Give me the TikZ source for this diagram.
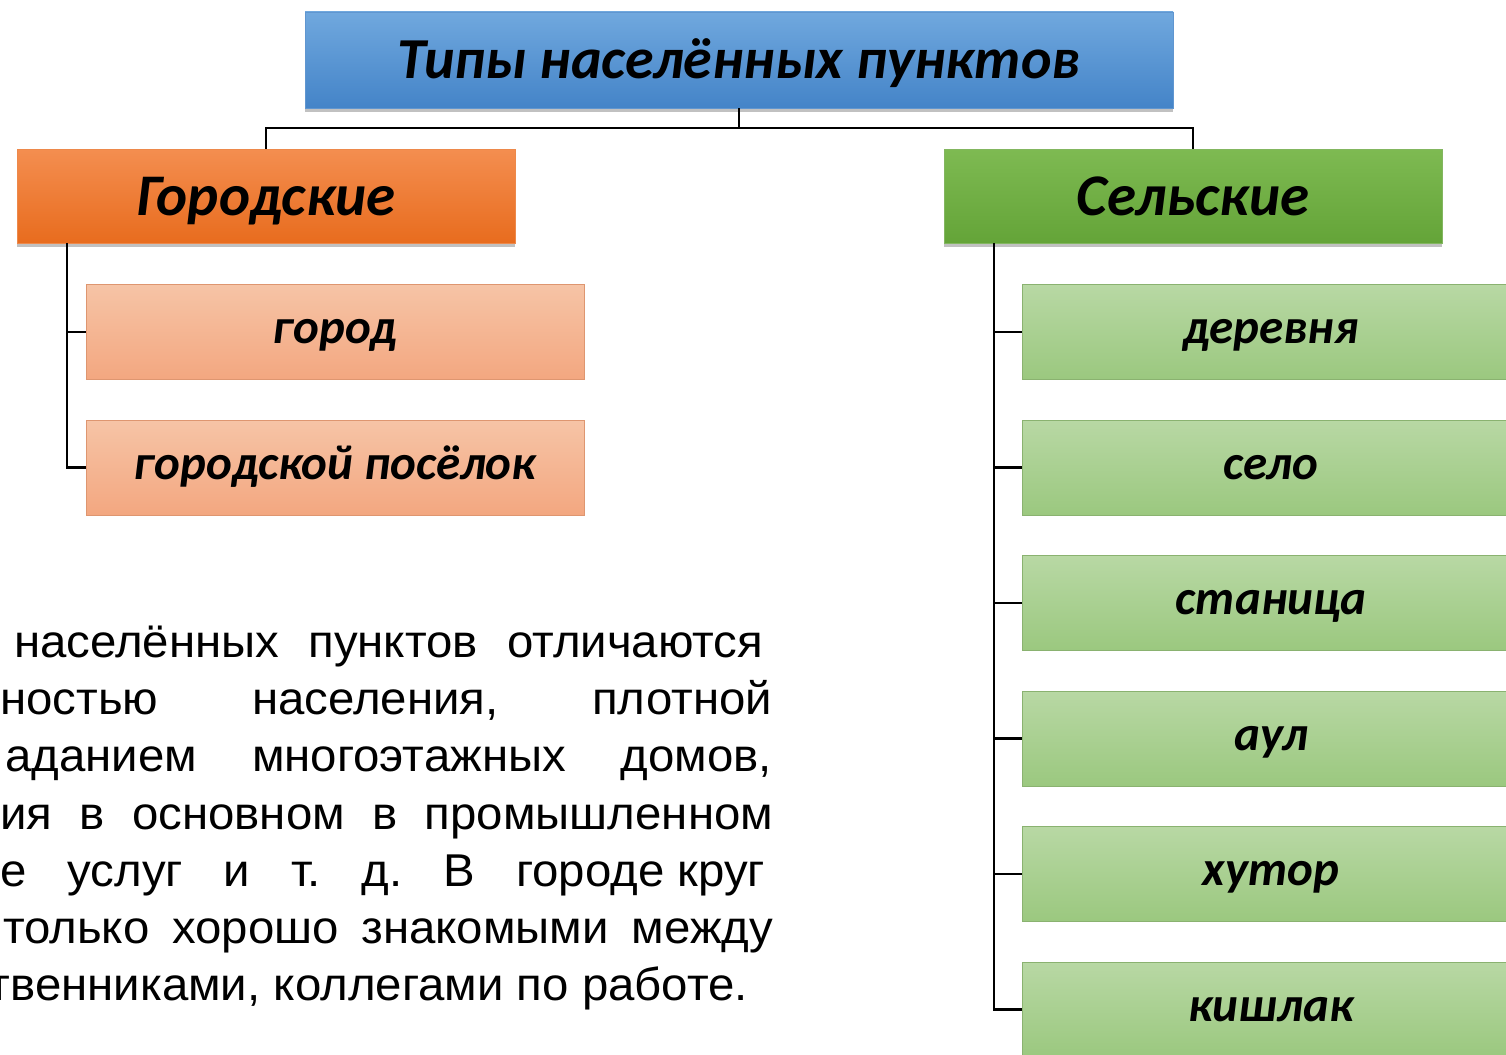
\documentclass[tikz,border=0pt]{standalone}
\usepackage{fontspec}
\usepackage{tikz}
\usetikzlibrary{positioning, shadows}

\newfontfamily\calibri{Carlito}
\newfontfamily\arialfont[FakeStretch=1.03]{Liberation Sans}

\definecolor{titletop}{RGB}{112,168,222}
\definecolor{titlebot}{RGB}{68,132,200}
\definecolor{urbantop}{RGB}{244,142,80}
\definecolor{urbanbot}{RGB}{232,108,30}
\definecolor{ruraltop}{RGB}{126,186,82}
\definecolor{ruralbot}{RGB}{100,164,56}
\definecolor{salmontop}{RGB}{246,196,166}
\definecolor{salmonbot}{RGB}{243,167,128}
\definecolor{salmonline}{RGB}{222,150,112}
\definecolor{mintop}{RGB}{184,216,164}
\definecolor{minbot}{RGB}{155,200,127}
\definecolor{minline}{RGB}{138,178,112}

\begin{document}
\frenchspacing
\begin{tikzpicture}[x=1pt, y=-1pt, node distance=135.5pt and 78pt, on grid,
	mainbox/.style={rectangle, minimum height=96pt, inner sep=0pt,
		text height=44pt, text depth=6pt,
		font=\calibri\bfseries\itshape\fontsize{59}{64}\selectfont,
		drop shadow={shadow xshift=0pt, shadow yshift=-4pt, opacity=0.35, fill=black!70}},
	typebox/.style={mainbox, minimum width=868pt, top color=titletop, bottom color=titlebot,
		draw=titlebot!85!white, font=\calibri\bfseries\itshape\fontsize{58}{62}\selectfont},
	urbanbox/.style={mainbox, minimum width=498pt, minimum height=94pt, top color=urbantop, bottom color=urbanbot, draw=urbanbot!80!white},
	ruralbox/.style={mainbox, minimum width=498pt, minimum height=94pt, top color=ruraltop, bottom color=ruralbot, draw=ruralbot!80!white},
	itembox/.style={rectangle, minimum width=498pt, minimum height=95pt, inner sep=0pt, line width=1pt,
		text height=32pt, text depth=8.5pt,
		font=\calibri\bfseries\itshape\fontsize{49}{52}\selectfont},
	urbanitem/.style={itembox, top color=salmontop, bottom color=salmonbot, draw=salmonline},
	ruralitem/.style={itembox, top color=mintop, bottom color=minbot, draw=minline},
	link/.style={draw=black, line width=2.2pt},
	para/.style={inner sep=0pt, text=black, font=\arialfont\fontsize{46}{57}\selectfont}]

\useasboundingbox (0,0) rectangle (1506,1054);
\clip (0,0) rectangle (1506,1054);

% Nodes
\node[typebox] (types) at (739,60) {Типы населённых пунктов};

\node[urbanbox] (urban) at (266,196) {Городские};
\node[ruralbox] (rural) at (1193,196) {Сельские};

\node[urbanitem, below right=136pt and 69pt of urban] (city) {город};
\node[urbanitem, below=of city] (town) {городской посёлок};

\node[ruralitem, below right=136pt and 78pt of rural] (village) {деревня};
\node[ruralitem, below=of village] (selo) {село};
\node[ruralitem, below=of selo] (stanitsa) {станица};
\node[ruralitem, below=of stanitsa] (aul) {аул};
\node[ruralitem, below=of aul] (khutor) {хутор};
\node[ruralitem, below=of khutor] (kishlak) {кишлак};

% Text block
\node[para, anchor=base west] (p1) at (14,657) {\makebox[749pt][s]{населённых пунктов отличаются}};
\node[para, anchor=base west] (p2) at (0,714) {\makebox[772pt][s]{ностью населения, плотной}};
\node[para, anchor=base west] (p3) at (5,771) {\makebox[767pt][s]{аданием многоэтажных домов,}};
\node[para, anchor=base west] (p4) at (0,829) {\makebox[773pt][s]{ия в основном в промышленном}};
\node[para, anchor=base west] (p5) at (0,886) {\makebox[765pt][s]{е услуг и т. д. В \mbox{городе круг}}};
\node[para, anchor=base west] (p6) at (3,943) {\makebox[770pt][s]{только хорошо знакомыми между}};
\node[para, anchor=base east] (p7) at (748,1000) {твенниками, коллегами по работе.};

% Links
\draw[link] (types.south) -- ++(0,20) -| (urban.north);
\draw[link] (types.south) -- ++(0,20) -| (rural.north);

\coordinate (ustem) at ([xshift=50pt]urban.south west);
\coordinate (rstem) at ([xshift=50pt]rural.south west);
\foreach \n in {city,town}
	\draw[link] (ustem) |- (\n.west);
\foreach \n in {village,selo,stanitsa,aul,khutor,kishlak}
	\draw[link] (rstem) |- (\n.west);
\end{tikzpicture}
\end{document}
